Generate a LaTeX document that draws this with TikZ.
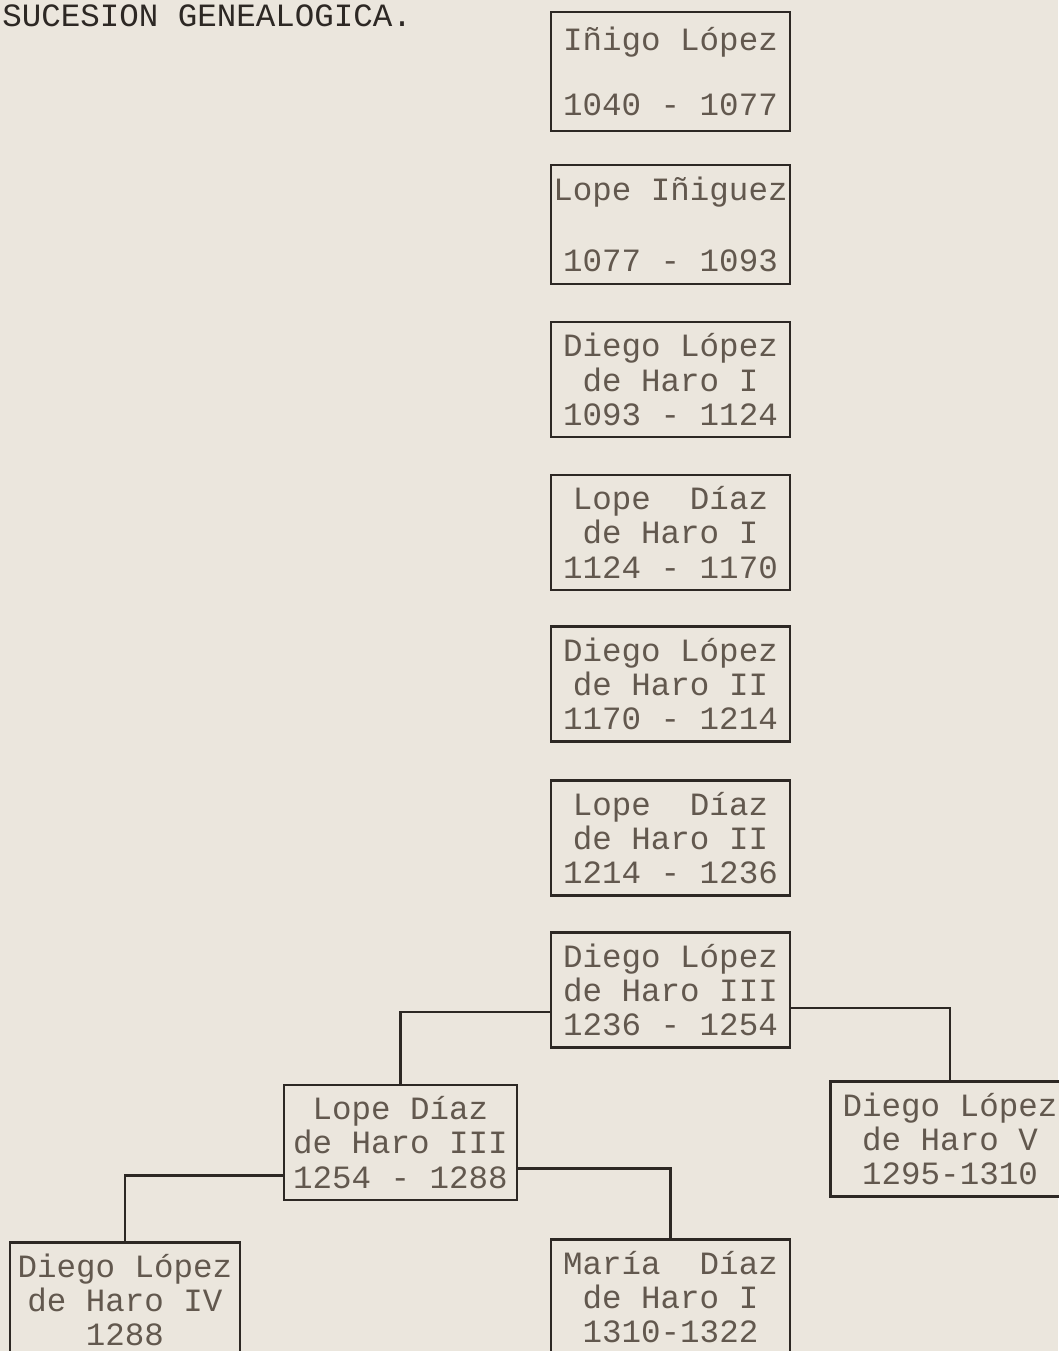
\documentclass[tikz,border=0pt]{standalone}
\usepackage{fontspec}
\newfontfamily\maquina{Liberation Mono}
\usetikzlibrary{positioning}
\definecolor{papel}{RGB}{235,230,221}
\definecolor{tinta}{RGB}{98,88,78}
\definecolor{trazo}{RGB}{45,40,36}

\tikzset{
  caja/.style={draw=trazo, line width=1.3pt, fill=papel, rectangle, inner sep=0pt,
    minimum width=4.78cm, minimum height=2.3cm, align=center, text=tinta,
    font=\maquina\fontsize{18.5}{19.5}\selectfont},
  rama/.style={draw=trazo, line width=1.3pt},
  titulo/.style={text=trazo, inner sep=0pt, font=\maquina\fontsize{18.5}{19.5}\selectfont}
}

\begin{document}
\begin{tikzpicture}[x=0.02cm,y=-0.02cm]

    \useasboundingbox (0,0) rectangle (1058,1351);
    \fill[papel] (0,0) rectangle (1058,1351);

    % =====================
    % Title
    % =====================
    \node[titulo, anchor=base west] (titulo) at (2,27) {SUCESION GENEALOGICA.};

    % =====================
    % Main line
    % =====================
    \node[caja, minimum height=2.38cm] (inigo) at (670.5,71.5) {Iñigo López\\[0.6cm]1040 - 1077};
    \node[caja, minimum height=2.38cm] (lopeI0) at (670.5,224.5) {Lope Iñiguez\\[0.73cm]1077 - 1093};
    \node[caja] (diegoI) at (670.5,379.5) {Diego López\\de Haro I\\1093 - 1124};
    \node[caja] (lopeI) at (670.5,532.5) {Lope\ \ Díaz\\de Haro I\\1124 - 1170};
    \node[caja] (diegoII) at (670.5,684) {Diego López\\de Haro II\\1170 - 1214};
    \node[caja] (lopeII) at (670.5,838) {Lope\ \ Díaz\\de Haro II\\1214 - 1236};
    \node[caja] (diegoIII) at (670.5,990) {Diego López\\de Haro III\\1236 - 1254};

    % =====================
    % Branches
    % =====================
    \node[caja, minimum width=4.66cm] (lopeIII) at (400.5,1142.5) {Lope Díaz\\de Haro III\\1254 - 1288};
    \node[caja] (diegoV) at (950,1139) {Diego López\\de Haro V\\1295-1310};
    \node[caja] (maria) at (670.5,1297) {María\ \ Díaz\\de Haro I\\1310-1322};
    \node[caja, minimum width=4.6cm] (diegoIV) at (125,1300) {Diego López\\de Haro IV\\1288};

    % =====================
    % Connectors
    % =====================
    \draw[rama] ([yshift=-0.44cm]diegoIII.west) -| (lopeIII.north);
    \draw[rama] ([yshift=-0.36cm]diegoIII.east) -| (diegoV.north);
    \draw[rama] ([yshift=-0.66cm]lopeIII.west) -| (diegoIV.north);
    \draw[rama] ([yshift=-0.52cm]lopeIII.east) -| (maria.north);

\end{tikzpicture}
\end{document}
